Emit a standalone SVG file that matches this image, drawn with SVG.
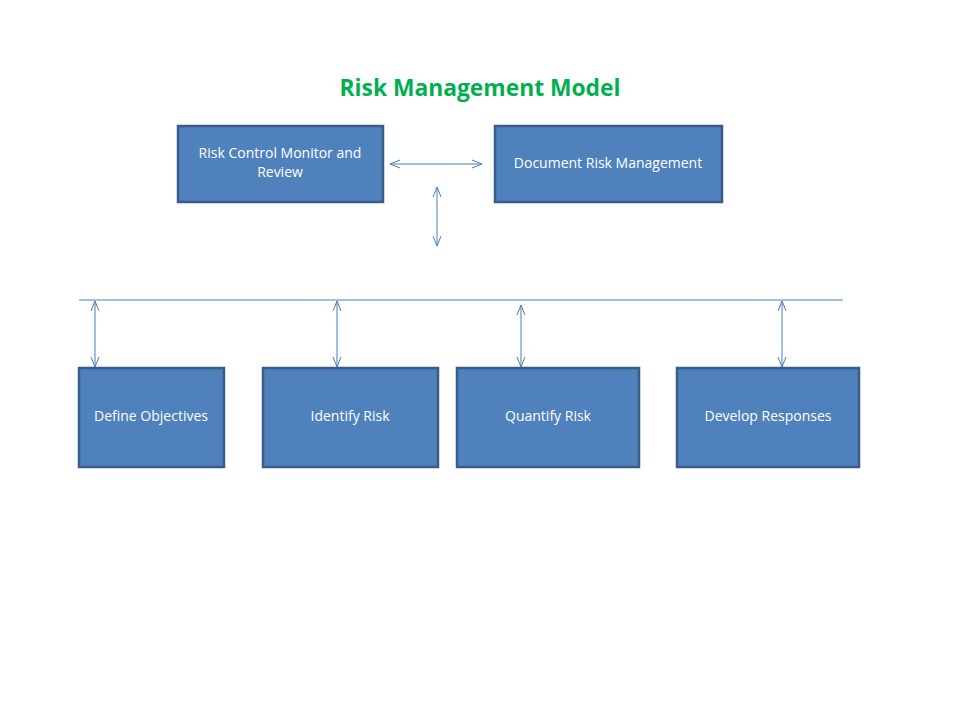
<svg xmlns="http://www.w3.org/2000/svg" width="960" height="720" viewBox="0 0 960 720">
<defs>
<style>
.box{fill:#4F81BD;stroke:#385D8A;stroke-width:2.5}
.lbl{font-family:"Open Sans","Liberation Sans",sans-serif;font-size:14px;fill:#FFFFFF;text-anchor:middle}
.con{stroke:#4A7EBB;stroke-width:1;fill:none}
.arr{stroke:#4A7EBB;stroke-width:1;fill:none;marker-start:url(#ah);marker-end:url(#ah)}
</style>
<marker id="ah" viewBox="0 0 10 10" refX="10" refY="5" markerWidth="10" markerHeight="10" markerUnits="userSpaceOnUse" orient="auto-start-reverse">
<polyline points="0,1 10,5 0,9" fill="none" stroke="#4A7EBB" stroke-width="1"/>
</marker>
</defs>
<rect width="960" height="720" fill="#FFFFFF"/>
<text x="480" y="96" font-family="'Open Sans','Liberation Sans',sans-serif" font-size="22.8" font-weight="bold" fill="#00B050" text-anchor="middle">Risk Management Model</text>
<g id="connectors">
<line class="arr" x1="390" y1="164" x2="482" y2="164"/>
<line class="arr" x1="437" y1="187" x2="437" y2="246"/>
<line class="con" x1="79" y1="300" x2="843" y2="300"/>
<line class="arr" x1="95" y1="301" x2="95" y2="367"/>
<line class="arr" x1="337" y1="301" x2="337" y2="367"/>
<line class="arr" x1="521" y1="305" x2="521" y2="367"/>
<line class="arr" x1="782" y1="301" x2="782" y2="367"/>
</g>
<g id="risk-control">
<rect class="box" x="178" y="126" width="205" height="76"/>
<text class="lbl" x="280" y="158">Risk Control Monitor and</text>
<text class="lbl" x="280" y="177">Review</text>
</g>
<g id="document-risk">
<rect class="box" x="495" y="126" width="227" height="76"/>
<text class="lbl" x="608" y="168">Document Risk Management</text>
</g>
<g id="define-objectives">
<rect class="box" x="79" y="368" width="145" height="99"/>
<text class="lbl" x="151" y="421">Define Objectives</text>
</g>
<g id="identify-risk">
<rect class="box" x="263" y="368" width="175" height="99"/>
<text class="lbl" x="350" y="421">Identify Risk</text>
</g>
<g id="quantify-risk">
<rect class="box" x="457" y="368" width="182" height="99"/>
<text class="lbl" x="548" y="421">Quantify Risk</text>
</g>
<g id="develop-responses">
<rect class="box" x="677" y="368" width="182" height="99"/>
<text class="lbl" x="768" y="421">Develop Responses</text>
</g>
</svg>
